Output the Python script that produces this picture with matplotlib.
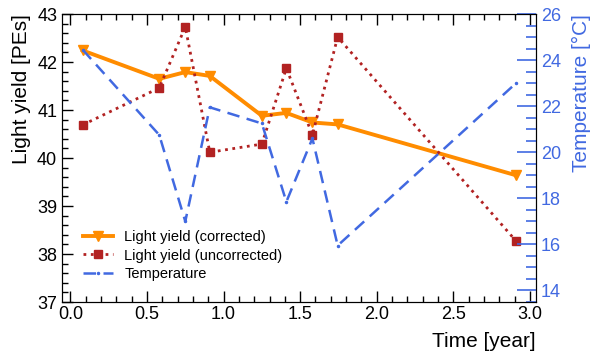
import numpy as np
import matplotlib
matplotlib.use("Agg")
import matplotlib.pyplot as plt
from matplotlib.ticker import MultipleLocator

plt.rcParams['font.family'] = ['Liberation Sans', 'DejaVu Sans']

# data
time = [0.08, 0.58, 0.75, 0.91, 1.25, 1.41, 1.58, 1.745, 2.91]
ly_corr = [42.24, 41.65, 41.79, 41.71, 40.88, 40.94, 40.74, 40.70, 39.64]
ly_uncorr = [40.69, 41.46, 42.73, 40.12, 40.29, 41.87, 40.48, 42.52, 38.27]
temperature = [24.45, 20.75, 17.0, 21.95, 21.25, 17.85, 20.6, 15.95, 23.0]

c_orange = '#ff8c00'
c_red = '#b22222'
c_blue = '#4169e1'

fig = plt.figure(figsize=(5.98, 3.61), dpi=100)
ax = fig.add_axes([0.1037, 0.1634, 0.7926, 0.7978])
ax2 = ax.twinx()

l1, = ax.plot(time, ly_corr, '-', color=c_orange, lw=2.8, marker='v', ms=7,
              label='Light yield (corrected)')
l2, = ax.plot(time, ly_uncorr, ':', color=c_red, lw=2, marker='s', ms=5.5,
              label='Light yield (uncorrected)')
l3, = ax2.plot(time, temperature, '--', color=c_blue, lw=1.8, marker='.', ms=3,
               dashes=(5, 3), label='Temperature')

ax.set_xlim(-0.055, 3.04)
ax.set_ylim(37, 43)
ax2.set_ylim(13.5, 26)

ax.xaxis.set_major_locator(MultipleLocator(0.5))
ax.xaxis.set_minor_locator(MultipleLocator(0.1))
ax.yaxis.set_major_locator(MultipleLocator(1))
ax.yaxis.set_minor_locator(MultipleLocator(0.2))
ax2.yaxis.set_major_locator(MultipleLocator(2))
ax2.yaxis.set_minor_locator(MultipleLocator(0.5))

ax.tick_params(axis='x', which='both', direction='in', top=True, labelsize=13, pad=3)
ax.tick_params(axis='y', which='both', direction='in', right=False, labelsize=13)
ax.tick_params(which='major', length=8, width=1)
ax.tick_params(which='minor', length=4, width=1)
ax2.tick_params(axis='y', which='both', direction='in', colors=c_blue, labelsize=13)
ax2.tick_params(which='major', length=14, width=1.2)
ax2.tick_params(which='minor', length=7, width=1.2)
ax2.spines['right'].set_color('black')

ax.set_xticklabels([f'{v:.1f}' for v in ax.get_xticks()])

ax.set_xlabel('Time [year]', fontsize=15, loc='right', labelpad=6)
ax.set_ylabel('Light yield [PEs]', fontsize=15, loc='top')
ax2.set_ylabel('Temperature [°C]', fontsize=15, loc='top', color=c_blue, labelpad=8)

ax.legend(handles=[l1, l2, l3], loc='lower left', bbox_to_anchor=(0.025, 0.043),
          frameon=False, fontsize=10.5, handlelength=2.06, labelspacing=0.3,
          borderaxespad=0.2)

fig.savefig('out.png', dpi=100)
